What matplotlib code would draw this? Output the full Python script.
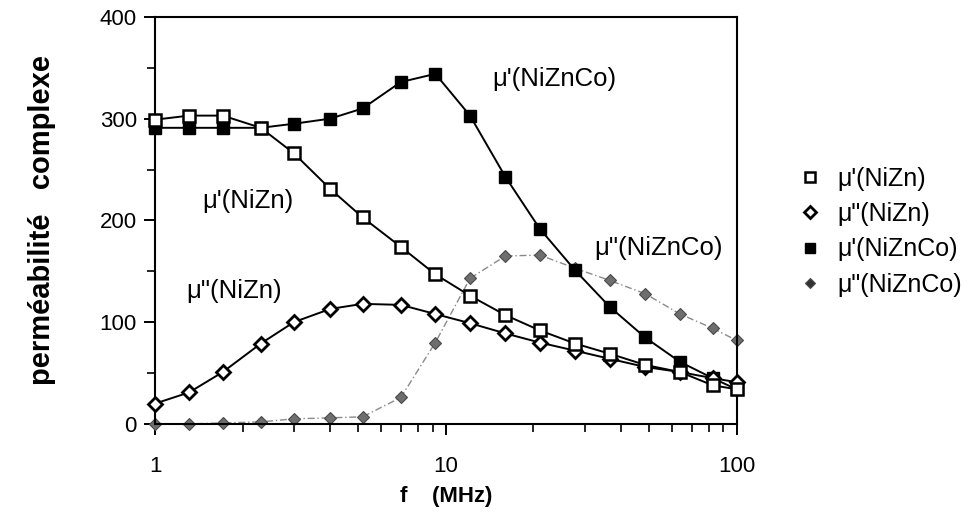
import matplotlib
matplotlib.use("Agg")
import matplotlib.pyplot as plt
from matplotlib.ticker import MultipleLocator, FixedLocator, NullFormatter

plt.rcParams['font.family'] = ['Liberation Sans', 'DejaVu Sans']

# frequency grid (MHz)
freq = [1, 1.31, 1.71, 2.31, 3.0, 4.0, 5.17, 7.0, 9.2, 12.1, 16.0, 21.0,
        27.8, 36.6, 48.4, 63.8, 82.6, 100]

mu1_nizn = [299, 303, 303, 291, 266, 231, 203, 174, 147, 126, 107, 92,
            79, 69, 58, 51, 38, 34]
mu2_nizn = [20, 31, 51, 79, 100, 113, 118, 117, 108, 99, 89, 80,
            72, 64, 56, 51, 45, 41]
mu1_niznco = [291, 291, 291, 291, 295, 300, 310, 336, 344, 303, 243, 192,
              151, 115, 85, 61, 45, 34]
mu2_niznco = [0, 0, 1, 2, 5, 6, 7, 26, 80, 143, 165, 166,
              153, 141, 128, 108, 94, 82]

labels = ["\u03bc'(NiZn)", '\u03bc"(NiZn)', "\u03bc'(NiZnCo)", '\u03bc"(NiZnCo)']

fig = plt.figure(figsize=(9.72, 5.12), dpi=100)
ax = fig.add_axes([0.1595, 0.172, 0.5985, 0.795])

ax.plot(freq, mu2_niznco, color='#8a8a8a', lw=1.0, ls=(0, (5, 2, 1, 2)),
        marker='D', ms=6.5, mfc='#6e6e6e', mec='#4a4a4a', mew=0.8,
        label=labels[3], clip_on=False, zorder=2)
ax.plot(freq, mu1_niznco, color='black', lw=1.4, marker='s', ms=8.5,
        mfc='black', mec='black', label=labels[2], clip_on=False, zorder=3)
ax.plot(freq, mu2_nizn, color='black', lw=1.4, marker='D', ms=7,
        mfc='white', mec='black', mew=2.0, label=labels[1], clip_on=False, zorder=4)
ax.plot(freq, mu1_nizn, color='black', lw=1.4, marker='s', ms=8,
        mfc='white', mec='black', mew=1.8, label=labels[0], clip_on=False, zorder=5)

ax.set_xscale('log')
ax.set_xlim(1, 100)
ax.set_ylim(0, 400)
ax.xaxis.set_major_locator(FixedLocator([1, 10, 100]))
ax.set_xticklabels(['1', '10', '100'])
ax.xaxis.set_minor_locator(FixedLocator([2, 3, 4, 5, 6, 7, 8, 9,
                                         20, 30, 40, 50, 60, 70, 80, 90]))
ax.xaxis.set_minor_formatter(NullFormatter())
ax.yaxis.set_major_locator(MultipleLocator(100))
ax.yaxis.set_minor_locator(MultipleLocator(50))

ax.tick_params(axis='both', which='major', direction='out', length=8, width=1.4,
               labelsize=16)
ax.tick_params(axis='both', which='minor', direction='out', length=6, width=1.2)
ax.tick_params(axis='x', which='major', pad=15)
ax.tick_params(axis='y', which='major', pad=5)
for s in ax.spines.values():
    s.set_linewidth(1.5)

ax.set_xlabel('f    (MHz)', fontsize=16, fontweight='bold')
ax.xaxis.set_label_coords(0.5, -0.152)
ax.set_ylabel('perméabilité   complexe', fontsize=21, fontweight='bold')
ax.yaxis.set_label_coords(-0.17, 0.5)

# curve annotations
ax.text(14.4, 339, labels[2], fontsize=18.5, ha='left', va='center')
ax.text(1.45, 219, labels[0], fontsize=18.5, ha='left', va='center')
ax.text(1.28, 131, labels[1], fontsize=18.5, ha='left', va='center')
ax.text(32.4, 173, labels[3], fontsize=18.5, ha='left', va='center')

handles, lbls = ax.get_legend_handles_labels()
order = [3, 2, 1, 0]
leg_handles = []
for i in order:
    h = handles[i]
    proxy = plt.Line2D([], [], ls='none', marker=h.get_marker(), ms=h.get_markersize() * 0.85,
                       mfc=h.get_markerfacecolor(), mec=h.get_markeredgecolor(),
                       mew=h.get_markeredgewidth())
    leg_handles.append(proxy)
leg_handles[3].set_markerfacecolor('#333333')
ax.legend(leg_handles, [lbls[i] for i in order], loc='center left',
          bbox_to_anchor=(1.104, 0.472), frameon=False, fontsize=18,
          borderpad=0, borderaxespad=0, handlelength=1.0, handletextpad=0.62,
          labelspacing=0.45)

fig.savefig('out.png', dpi=100)
